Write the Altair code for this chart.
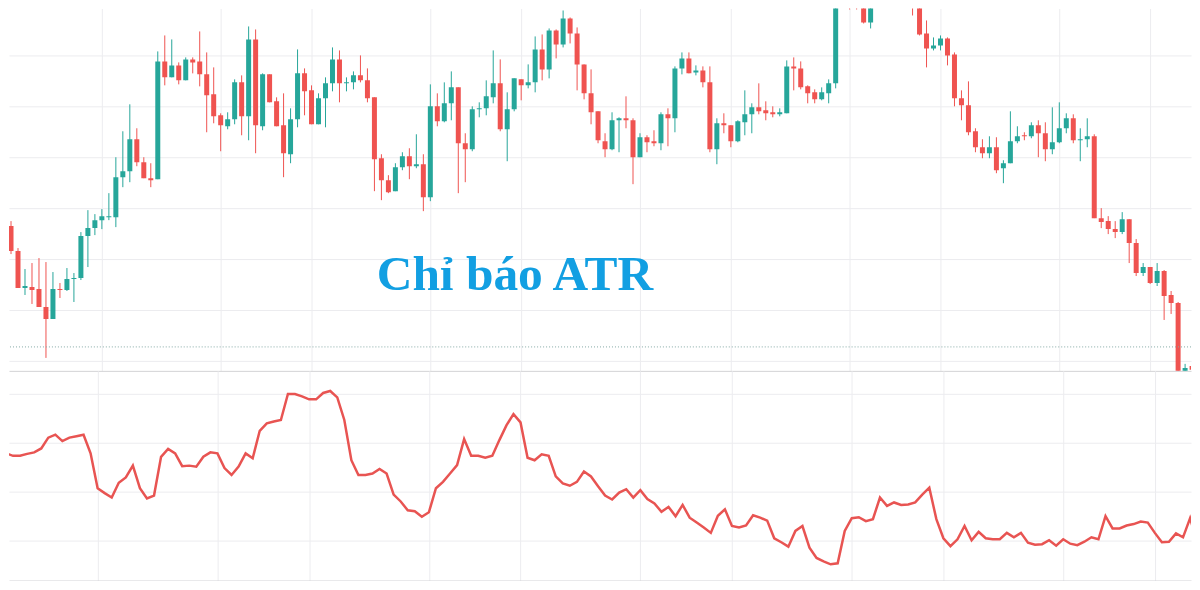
import altair as alt
import pandas as pd
import numpy as np

# ---------------- data ----------------
candle_index = list(range(171))

open_ = [83,146,121,84,85,83,65,53,83,82,93,94,136,144,152,155,155,195,201,233,
         210,194,193,311,295,307,292,313,311,298,278,257,246,253,290,256,333,246,298,271,
         247,218,253,299,282,248,274,289,313,289,290,297,292,275,214,192,181,205,216,206,
         208,175,266,251,269,285,229,223,263,264,275,289,243,263,293,287,290,323,303,342,
         328,354,339,308,279,261,231,223,252,254,252,215,235,231,229,258,254,304,314,300,
         302,290,223,249,247,231,250,258,265,262,260,258,259,306,304,286,280,273,279,289,
         397,377,369,366,350,378,392,385,395,384,372,370,339,324,327,334,318,274,267,241,
         225,219,225,204,209,231,237,236,247,239,223,230,244,254,232,233,236,154,151,143,
         140,153,129,99,105,89,101,77,69,-2,6]
high = [150,151,124,103,109,114,110,100,89,104,99,140,162,158,163,179,215,241,268,244,
        215,209,321,337,333,310,315,315,341,320,305,259,260,293,297,346,343,299,298,275,
        279,264,323,304,287,279,295,325,322,295,301,317,304,275,218,197,209,220,224,238,
        218,288,279,290,301,285,239,266,270,292,322,313,280,294,293,308,336,338,344,343,
        362,355,345,308,303,261,239,260,255,276,254,239,237,242,260,264,306,320,320,307,
        306,306,254,259,247,252,282,269,289,271,266,264,312,315,311,287,283,285,293,405,
        410,385,372,367,386,398,400,402,399,388,376,372,352,335,337,335,320,282,291,244,
        233,236,235,212,261,246,240,250,252,250,265,270,259,258,244,254,238,164,156,151,
        160,153,133,109,105,109,102,81,70,8,12]
low = [80,118,84,77,68,65,14,53,74,81,70,92,105,137,143,152,145,185,190,206,
       194,185,193,287,295,288,292,299,286,240,249,221,243,248,237,232,219,242,270,246,
       195,209,245,257,248,248,245,281,270,281,283,290,270,181,172,179,181,202,193,204,
       161,171,246,250,252,179,190,221,255,257,269,241,211,261,272,284,280,292,294,314,
       325,329,282,273,248,229,215,222,220,244,188,215,220,226,222,226,240,298,299,297,
       285,220,208,239,225,230,237,239,258,252,255,256,259,282,283,269,269,272,269,284,
       380,363,363,349,344,374,380,382,378,370,357,337,305,322,322,307,266,252,237,220,
       214,214,199,189,209,229,232,234,215,211,218,229,239,229,211,225,154,144,138,134,
       138,109,96,96,88,86,52,58,-13,-5,-2]
close = [146,121,84,86,82,65,53,83,82,93,94,136,144,152,156,156,195,201,233,210,
         194,192,311,295,307,292,313,310,298,277,256,247,253,290,256,333,247,298,270,246,
         219,253,299,281,248,274,289,313,289,290,297,292,274,213,192,180,205,216,206,208,
         175,266,251,269,285,229,223,263,264,276,289,243,263,294,287,290,323,303,342,328,
         354,339,308,279,260,232,223,252,254,252,215,235,230,229,258,254,304,314,299,302,
         290,223,249,247,231,251,258,265,261,259,258,260,306,304,285,279,273,280,289,397,
         388,367,365,350,378,392,385,395,384,375,370,338,324,327,334,317,274,267,240,225,
         219,225,202,209,231,236,236,247,239,223,230,244,254,232,233,236,154,150,143,140,
         153,129,99,105,89,101,76,69,-8,4,2]

atr = [2.21,2.78,2.73,2.73,2.77,2.80,2.88,3.10,3.16,3.03,
       3.10,3.13,3.16,2.78,2.07,1.97,1.88,2.18,2.29,2.53,
       2.07,1.86,1.92,2.71,2.87,2.78,2.52,2.53,2.51,2.71,
       2.80,2.78,2.48,2.34,2.51,2.78,2.68,3.24,3.39,3.43,
       3.46,3.99,3.99,3.94,3.88,3.88,4.01,4.05,3.92,3.46,
       2.64,2.34,2.34,2.37,2.46,2.37,1.94,1.80,1.62,1.60,
       1.49,1.58,2.07,2.20,2.37,2.54,3.07,2.73,2.73,2.69,
       2.73,3.05,3.35,3.58,3.41,2.69,2.64,2.76,2.73,2.31,
       2.17,2.12,2.20,2.41,2.31,2.11,1.92,1.84,1.98,2.05,
       1.88,2.03,1.85,1.76,1.59,1.69,1.50,1.73,1.47,1.37,
       1.27,1.16,1.51,1.64,1.30,1.27,1.31,1.52,1.47,1.41,
       1.05,0.97,0.88,1.20,1.30,0.86,0.65,0.58,0.52,0.54,
       1.20,1.46,1.48,1.40,1.44,1.88,1.71,1.78,1.73,1.74,
       1.78,1.94,2.08,1.44,1.05,0.89,1.03,1.30,1.01,1.18,
       1.05,1.03,1.03,1.16,1.07,1.16,0.96,0.92,0.93,1.01,
       0.90,1.03,0.94,0.91,0.98,1.07,1.03,1.50,1.25,1.25,
       1.31,1.34,1.39,1.37,1.16,0.97,0.98,1.15,1.07,1.46,
       0.97]

grid_x = [14, 31, 44, 61, 74, 91, 104, 121, 134, 151, 164]
grid_price = [11, 62, 113, 164, 215, 266, 317]
grid_atr = [1, 2, 3, 4]
price_line = [25]
title_text = ["Chỉ báo ATR"]
title_pos_x = [73.1]
title_pos_y = [82]

# ---------------- chart ----------------
UP, DOWN = "#26a69a", "#ef5350"
GRID = "#ececef"
BORDER = "#d3d3d6"

df = pd.DataFrame({"i": candle_index, "open": open_, "high": high,
                   "low": low, "close": close})
df["dir"] = np.where(df["close"] >= df["open"], "up", "down")
atr_df = pd.DataFrame({"i": candle_index, "atr": atr})

xscale = alt.Scale(domain=[1.425, 169.13], nice=False, zero=False)
yscale_top = alt.Scale(domain=[1, 364], nice=False, zero=False)
yscale_bot = alt.Scale(domain=[0.19, 4.46], nice=False, zero=False)

def xaxis():
    return alt.Axis(values=grid_x, grid=True, gridColor=GRID, labels=False,
                    ticks=False, domain=True, domainColor=BORDER, title=None)

def yaxis(vals):
    return alt.Axis(values=vals, grid=True, gridColor=GRID, labels=False,
                    ticks=False, domain=False, title=None)

color = alt.Color("dir:N", scale=alt.Scale(domain=["up", "down"], range=[UP, DOWN]),
                  legend=None)

base = alt.Chart(df)
wicks = base.mark_rule(strokeWidth=1, clip=True).encode(
    x=alt.X("i:Q", scale=xscale, axis=xaxis()),
    y=alt.Y("low:Q", scale=yscale_top, axis=yaxis(grid_price)),
    y2="high:Q",
    color=color,
)
bodies = base.mark_bar(size=5, clip=True).encode(
    x=alt.X("i:Q", scale=xscale),
    y=alt.Y("open:Q", scale=yscale_top),
    y2="close:Q",
    color=color,
)
pline = alt.Chart(pd.DataFrame({"p": price_line})).mark_rule(
    strokeDash=[1, 2], color="#86aaa6", strokeWidth=1
).encode(y=alt.Y("p:Q", scale=yscale_top))

title = alt.Chart(pd.DataFrame({"t": title_text, "x": title_pos_x, "y": title_pos_y})).mark_text(
    font="Liberation Serif", fontWeight="bold", fontSize=49.5, color="#129fe2",
    align="center", baseline="alphabetic"
).encode(x=alt.X("x:Q", scale=xscale), y=alt.Y("y:Q", scale=yscale_top), text="t:N")

top = alt.layer(wicks, bodies, pline, title).properties(width=1184, height=363)

bottom = alt.Chart(atr_df).mark_line(color="#e85452", strokeWidth=2.5, clip=True).encode(
    x=alt.X("i:Q", scale=xscale, axis=xaxis()),
    y=alt.Y("atr:Q", scale=yscale_bot, axis=yaxis(grid_atr)),
).properties(width=1184, height=210)

chart = alt.vconcat(top, bottom, spacing=0).properties(
    padding=0, background="white"
).configure_view(stroke=None).configure_axis(minExtent=0, labelPadding=0, offset=0)

chart.save("out.html", embed_options={"renderer": "svg", "actions": False})
